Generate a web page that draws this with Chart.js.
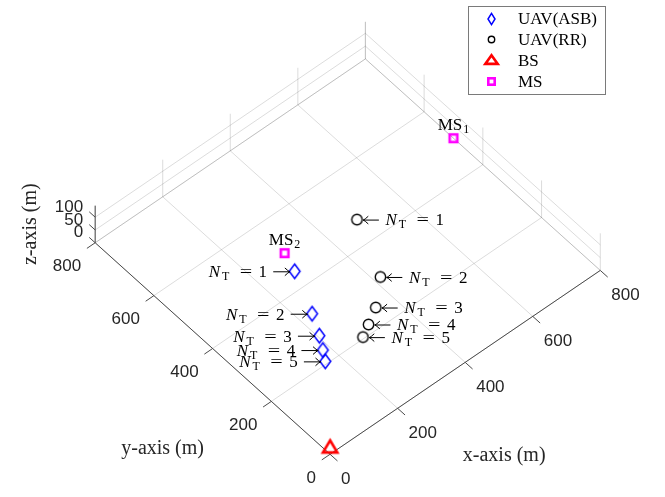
<!DOCTYPE html>
<html>
<head>
<meta charset="utf-8">
<script src="https://cdn.jsdelivr.net/npm/chart.js@4.4.1/dist/chart.umd.min.js"></script>
<style>
  html, body { margin: 0; padding: 0; background: #ffffff; }
  canvas { display: block; }
</style>
</head>
<body>
<canvas id="c" width="665" height="497"></canvas>
<script>
// Number of terminals served by each UAV placement
const nTerminals = [1, 2, 3, 4, 5];
// UAV positions (m) found by the ASB scheme
const asbX = [235, 185, 156, 135, 118];
const asbY = [391, 274, 216, 180, 152];
const asbZ = [100, 100, 100, 100, 100];
// UAV positions (m) found by the RR scheme
const rrX = [437, 369, 304, 260, 227];
const rrY = [411, 253, 194, 168, 149];
const rrZ = [100, 100, 100, 100, 100];
// Base station (m)
const bsX = [0];
const bsY = [0];
const bsZ = [25];
// Mobile stations (m)
const msX = [800, 300];
const msY = [500, 500];
const msZ = [0, 0];
const msIndex = ['1', '2'];
// Axis ticks and limits
const xTicks = [0, 200, 400, 600, 800];
const yTicks = [0, 200, 400, 600, 800];
const zTicks = [0, 50, 100];
const xLim = [0, 800];
const yLim = [0, 800];
const zLim = [0, 145];
const legendLabels = ['UAV(ASB)', 'UAV(RR)', 'BS', 'MS'];

// Orthographic 3-D view (azimuth / elevation, plot-box aspect)
const VIEW_AZ = -41 * Math.PI / 180;
const VIEW_EL = 52.2 * Math.PI / 180;
const BOX_ASPECT = [1, 1, 0.1707];
function project(x, y, z) {
  const xn = (x - xLim[0]) / (xLim[1] - xLim[0]) * BOX_ASPECT[0];
  const yn = (y - yLim[0]) / (yLim[1] - yLim[0]) * BOX_ASPECT[1];
  const zn = (z - zLim[0]) / (zLim[1] - zLim[0]) * BOX_ASPECT[2];
  const ca = Math.cos(VIEW_AZ), sa = Math.sin(VIEW_AZ);
  const ce = Math.cos(VIEW_EL), se = Math.sin(VIEW_EL);
  return { x: xn * ca + yn * sa, y: -xn * sa * se + yn * ca * se + zn * ce };
}
const toPoints = (xs, ys, zs) => xs.map((x, i) => project(x, ys[i], zs[i]));

const SERIF = '"Liberation Serif", "DejaVu Serif", serif';
const SANS = '"Liberation Sans", Arial, Helvetica, sans-serif';

// Marker glyphs drawn on small canvases
function marker(w, h, draw) {
  const c = document.createElement('canvas');
  c.width = w; c.height = h;
  const g = c.getContext('2d');
  draw(g, w / 2, h / 2);
  return c;
}
function diamond(hw, hh, lw) {
  return marker(Math.ceil(2 * hw + 6), Math.ceil(2 * hh + 6), (g, cx, cy) => {
    g.strokeStyle = '#0000ff'; g.lineWidth = lw; g.lineJoin = 'miter';
    g.beginPath();
    g.moveTo(cx, cy - hh); g.lineTo(cx + hw, cy); g.lineTo(cx, cy + hh); g.lineTo(cx - hw, cy);
    g.closePath(); g.stroke();
  });
}
function circle(r, lw) {
  return marker(Math.ceil(2 * r + 6), Math.ceil(2 * r + 6), (g, cx, cy) => {
    g.strokeStyle = '#000000'; g.lineWidth = lw;
    g.beginPath(); g.arc(cx, cy, r, 0, Math.PI * 2); g.stroke();
  });
}
function triangle(hw, up, down, lw) {
  return marker(Math.ceil(2 * hw + 10), Math.ceil(2 * Math.max(up, down) + 10), (g, cx, cy) => {
    g.strokeStyle = '#ff0000'; g.lineWidth = lw; g.lineJoin = 'miter';
    g.beginPath();
    g.moveTo(cx, cy - up); g.lineTo(cx + hw, cy + down); g.lineTo(cx - hw, cy + down);
    g.closePath(); g.stroke();
  });
}
function square(h, lw) {
  return marker(Math.ceil(2 * h + 6), Math.ceil(2 * h + 6), (g, cx, cy) => {
    g.strokeStyle = '#ff00ff'; g.lineWidth = lw; g.lineJoin = 'miter';
    g.strokeRect(cx - h, cy - h, 2 * h, 2 * h);
  });
}
const mkDiamond = diamond(5.4, 7.3, 1.5);
const mkCircle = circle(5.2, 1.4);
const mkTriangle = triangle(7.2, 7.5, 4.6, 2.6);
const mkSquare = square(3.8, 2.6);
const legendMarks = [diamond(3.5, 5.6, 1.5), circle(3.2, 1.4), triangle(6.2, 5.2, 3.4, 2.6), square(3.2, 2.6)];

// "N_T = n" label, N starting at n0, vertically centred on cy
function drawNT(ctx, n0, cy, n) {
  const F = 17;
  ctx.fillStyle = '#000000';
  ctx.textBaseline = 'alphabetic';
  ctx.textAlign = 'left';
  ctx.font = `italic ${F}px ${SERIF}`;
  ctx.fillText('N', n0, cy + 5.8);
  ctx.font = `12px ${SERIF}`;
  ctx.fillText('T', n0 + 0.78 * F, cy + 8.8);
  ctx.font = `${F}px ${SERIF}`;
  ctx.textAlign = 'center';
  ctx.save();
  ctx.translate(n0 + 2.19 * F, cy + 5.8);
  ctx.scale(1.3, 1);
  ctx.fillText('=', 0, 0);
  ctx.restore();
  ctx.textAlign = 'left';
  ctx.fillText(String(n), n0 + 2.94 * F, cy + 5.8);
}
// thin arrow with its tip at xTip, pointing left (dir = -1) or right (dir = 1)
function drawArrow(ctx, xTip, cy, dir, len) {
  const y = cy + 0.5;
  const tail = xTip - dir * len;
  ctx.save();
  ctx.strokeStyle = '#000000';
  ctx.lineWidth = 1;
  ctx.lineCap = 'round';
  ctx.beginPath();
  ctx.moveTo(tail, y);
  ctx.lineTo(xTip, y);
  ctx.moveTo(xTip - dir * 4.5, y - 3.6);
  ctx.quadraticCurveTo(xTip - dir * 1.5, y - 0.8, xTip, y);
  ctx.moveTo(xTip - dir * 4.5, y + 3.6);
  ctx.quadraticCurveTo(xTip - dir * 1.5, y + 0.8, xTip, y);
  ctx.stroke();
  ctx.restore();
}

const axes3d = {
  id: 'axes3d',
  beforeDatasetsDraw(chart) {
    const { ctx } = chart;
    const sx = chart.scales.x, sy = chart.scales.y;
    const P = (x, y, z) => { const p = project(x, y, z); return [sx.getPixelForValue(p.x), sy.getPixelForValue(p.y)]; };
    const seg = (a, b) => { ctx.moveTo(a[0], a[1]); ctx.lineTo(b[0], b[1]); };
    const dir = (a, b, len) => { const dx = b[0] - a[0], dy = b[1] - a[1], d = Math.hypot(dx, dy); return [dx / d * len, dy / d * len]; };
    const [x0, x1] = xLim, [y0, y1] = yLim, [z0, z1] = zLim;
    ctx.save();

    // grid on the floor and on the two back walls
    ctx.strokeStyle = 'rgba(38,38,38,0.16)';
    ctx.lineWidth = 1;
    ctx.beginPath();
    xTicks.forEach(t => { seg(P(t, y0, z0), P(t, y1, z0)); seg(P(t, y1, z0), P(t, y1, z1)); });
    yTicks.forEach(t => { seg(P(x0, t, z0), P(x1, t, z0)); seg(P(x1, t, z0), P(x1, t, z1)); });
    zTicks.forEach(t => { seg(P(x0, y1, t), P(x1, y1, t)); seg(P(x1, y0, t), P(x1, y1, t)); });
    ctx.stroke();

    // axis lines and tick marks
    ctx.strokeStyle = '#4a4a4a';
    ctx.lineWidth = 1;
    ctx.beginPath();
    seg(P(x0, y0, z0), P(x1, y0, z0));
    seg(P(x0, y0, z0), P(x0, y1, z0));
    seg(P(x0, y1, z0), P(x0, y1, z1));
    const dX = dir(P(0, 0, 0), P(0, -1, 0), 10);
    const dY = dir(P(0, 0, 0), P(-1, 0, 0), 10);
    const dZ = dir(P(0, 0, 0), P(0, 1, 0), 8);
    xTicks.forEach(t => { const a = P(t, y0, z0); seg(a, [a[0] + dX[0], a[1] + dX[1]]); });
    yTicks.forEach(t => { const a = P(x0, t, z0); seg(a, [a[0] + dY[0], a[1] + dY[1]]); });
    zTicks.forEach(t => { const a = P(x0, y1, t); seg(a, [a[0] + dZ[0], a[1] + dZ[1]]); });
    ctx.stroke();

    // tick labels
    ctx.fillStyle = '#262626';
    ctx.font = `17px ${SANS}`;
    ctx.textBaseline = 'middle';
    ctx.textAlign = 'left';
    xTicks.forEach(t => { const a = P(t, y0, z0); ctx.fillText(String(t), a[0] + 11, a[1] + 25); });
    ctx.textAlign = 'right';
    yTicks.forEach(t => { const a = P(x0, t, z0); ctx.fillText(String(t), a[0] - 14, a[1] + 24); });
    zTicks.forEach(t => { const a = P(x0, y1, t); ctx.fillText(String(t), a[0] - 12, a[1] - 10); });

    // axis titles
    ctx.fillStyle = '#262626';
    ctx.font = `20px ${SERIF}`;
    ctx.textAlign = 'center';
    const mx = P((x0 + x1) / 2, y0, z0);
    ctx.fillText('x-axis (m)', mx[0] + 39, mx[1] + 93);
    const my = P(x0, (y0 + y1) / 2, z0);
    ctx.fillText('y-axis (m)', my[0] - 50, my[1] + 100);
    const mz = P(x0, y1, (z0 + z1) / 2);
    ctx.save();
    ctx.translate(mz[0] - 64, mz[1]);
    ctx.rotate(-Math.PI / 2);
    ctx.fillText('z-axis (m)', 0, 0);
    ctx.restore();

    ctx.restore();
  },
  afterDatasetsDraw(chart) {
    const { ctx } = chart;
    ctx.save();
    // terminal-count annotations
    chart.getDatasetMeta(0).data.forEach((pt, i) => {
      drawArrow(ctx, pt.x - 5, pt.y, 1, 16);
      drawNT(ctx, pt.x - 86, pt.y, nTerminals[i]);
    });
    chart.getDatasetMeta(1).data.forEach((pt, i) => {
      drawArrow(ctx, pt.x + 6.5, pt.y, -1, 15);
      drawNT(ctx, pt.x + 28.5, pt.y, nTerminals[i]);
    });
    // mobile-station names
    chart.getDatasetMeta(3).data.forEach((pt, i) => {
      ctx.textBaseline = 'alphabetic';
      ctx.textAlign = 'left';
      ctx.font = `17px ${SERIF}`;
      const w1 = ctx.measureText('MS').width;
      ctx.font = `12px ${SERIF}`;
      const w2 = ctx.measureText(msIndex[i]).width;
      const left = pt.x - (w1 + w2 + 1) / 2;
      ctx.fillStyle = '#000000';
      ctx.font = `17px ${SERIF}`;
      ctx.fillText('MS', left, pt.y - 8.5);
      ctx.font = `12px ${SERIF}`;
      ctx.fillText(msIndex[i], left + w1 + 1, pt.y - 5.5);
    });

    // legend box
    const bx = 468.5, by = 6.5, bw = 137, bh = 88;
    ctx.fillStyle = '#ffffff';
    ctx.fillRect(bx, by, bw, bh);
    ctx.strokeStyle = '#7a7a7a';
    ctx.lineWidth = 1;
    ctx.strokeRect(bx, by, bw, bh);
    chart.data.datasets.forEach((ds, i) => {
      const cy = 18.5 + i * 21;
      const m = legendMarks[i];
      ctx.drawImage(m, Math.round(491 - m.width / 2), Math.round(cy - m.height / 2));
      ctx.fillStyle = '#000000';
      ctx.font = `17px ${SERIF}`;
      ctx.textAlign = 'left';
      ctx.textBaseline = 'middle';
      ctx.fillText(ds.label, 518, cy + 1);
    });
    ctx.restore();
  }
};

// Pixel scale of the projected view
const PX_PER_UNIT = 368, ORIGIN_PX = [330, 462];
const W = 665, H = 497;

new Chart(document.getElementById('c'), {
  type: 'scatter',
  data: {
    datasets: [
      { label: legendLabels[0], data: toPoints(asbX, asbY, asbZ), pointStyle: mkDiamond, pointRadius: 6 },
      { label: legendLabels[1], data: toPoints(rrX, rrY, rrZ), pointStyle: mkCircle, pointRadius: 6 },
      { label: legendLabels[2], data: toPoints(bsX, bsY, bsZ), pointStyle: mkTriangle, pointRadius: 8 },
      { label: legendLabels[3], data: toPoints(msX, msY, msZ), pointStyle: mkSquare, pointRadius: 5 }
    ]
  },
  options: {
    responsive: false,
    animation: false,
    devicePixelRatio: 1,
    layout: { padding: 0 },
    scales: {
      x: { type: 'linear', display: false, min: -ORIGIN_PX[0] / PX_PER_UNIT, max: (W - ORIGIN_PX[0]) / PX_PER_UNIT },
      y: { type: 'linear', display: false, min: (ORIGIN_PX[1] - H) / PX_PER_UNIT, max: ORIGIN_PX[1] / PX_PER_UNIT }
    },
    plugins: { legend: { display: false }, tooltip: { enabled: false } }
  },
  plugins: [axes3d]
});
</script>
</body>
</html>
